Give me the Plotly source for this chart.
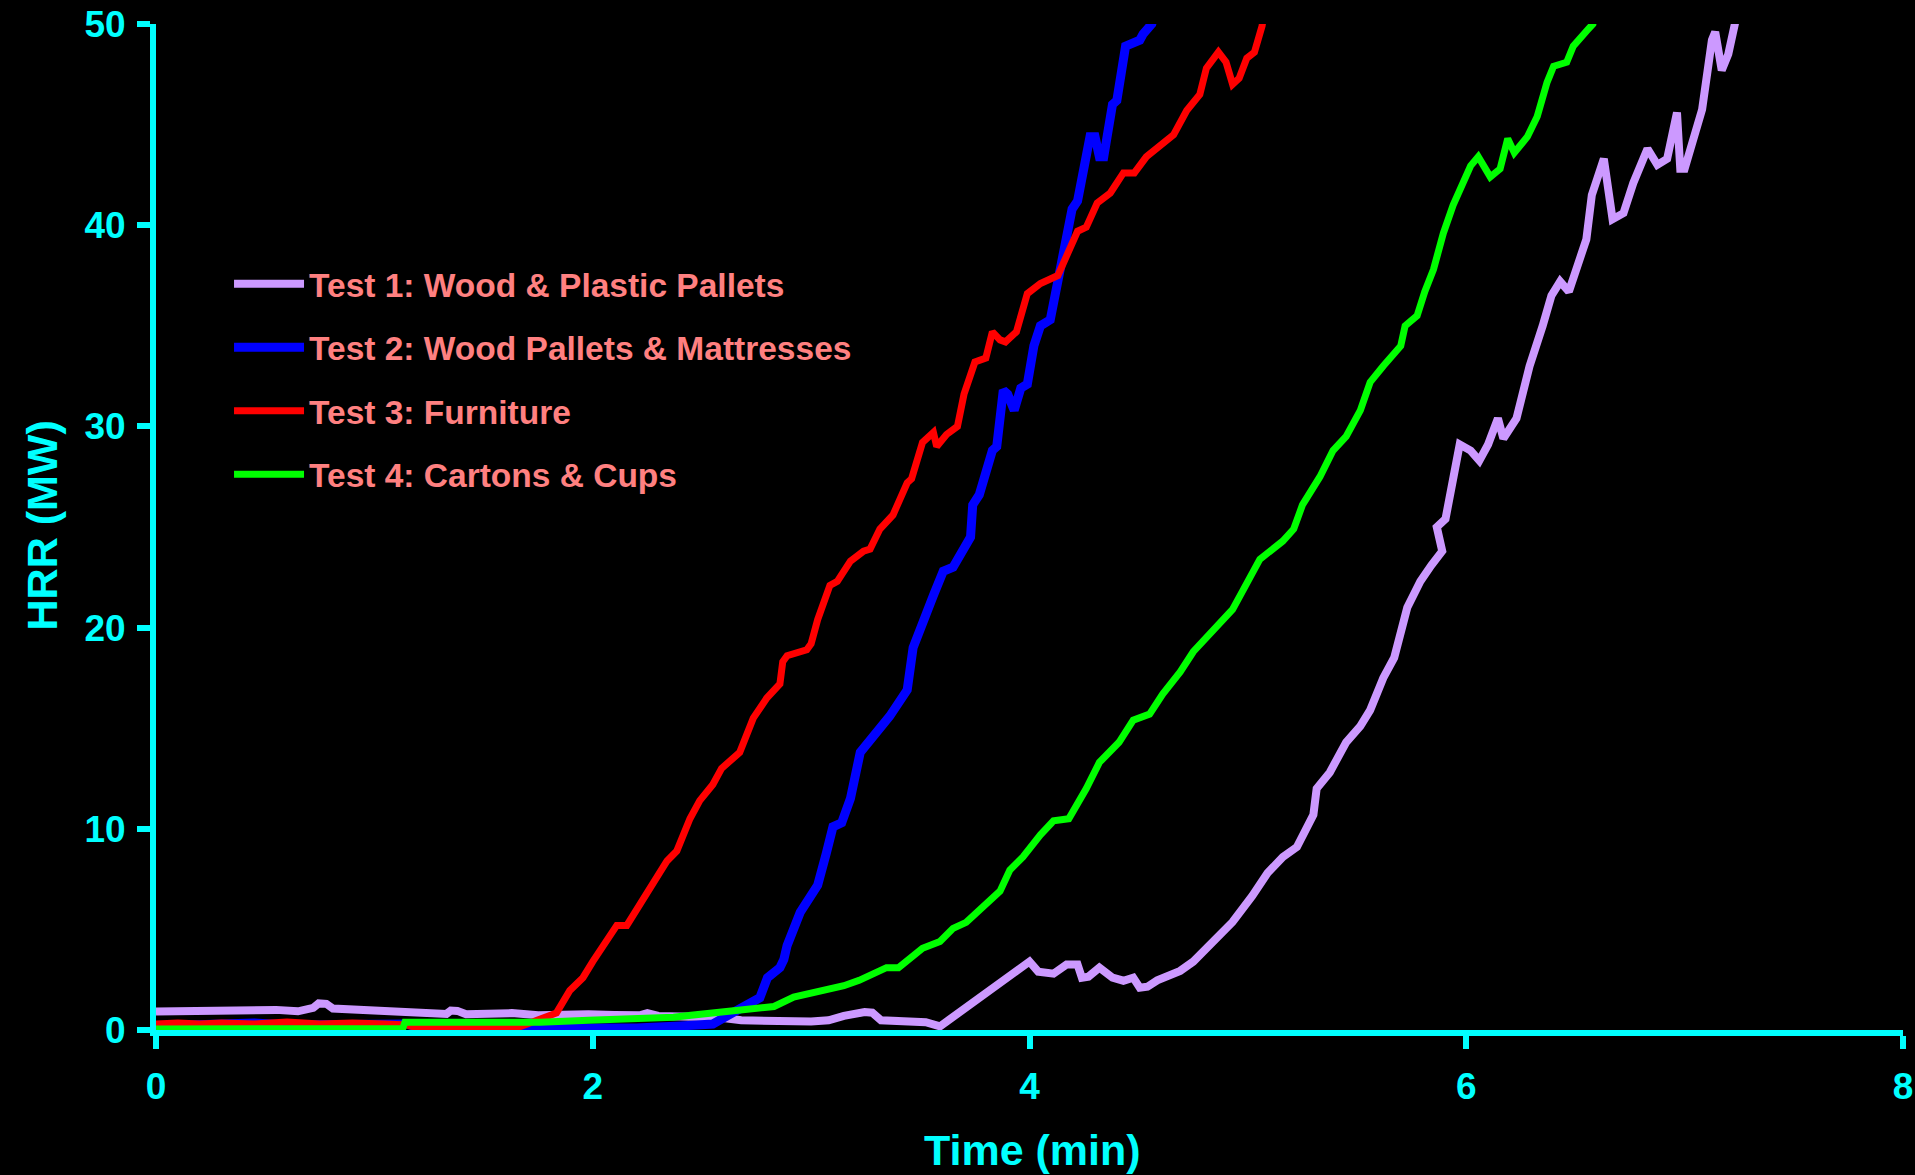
import plotly.graph_objects as go

# ---- data (time in min, HRR in MW) ----
t1_x = [0, 0.1, 0.23, 0.35, 0.46, 0.55, 0.65, 0.72, 0.745, 0.78, 0.81, 0.9, 1.05, 1.15, 1.28, 1.33, 1.35, 1.38,
        1.42, 1.5, 1.63, 1.75, 1.85, 1.98, 2.1, 2.215, 2.25, 2.3, 2.45, 2.57, 2.68, 2.8, 2.92, 3.0, 3.08, 3.15,
        3.245, 3.28, 3.32, 3.4, 3.525, 3.59, 4.0, 4.04, 4.11, 4.17, 4.22, 4.24, 4.27, 4.32, 4.38, 4.43, 4.475,
        4.505, 4.54, 4.585, 4.69, 4.75, 4.84, 4.93, 5.02, 5.09, 5.16, 5.225, 5.30, 5.315, 5.375, 5.45, 5.515,
        5.56, 5.62, 5.67, 5.73, 5.79, 5.84, 5.89, 5.865, 5.905, 5.97, 6.02, 6.06, 6.10, 6.145, 6.17, 6.23,
        6.29, 6.35, 6.39, 6.43, 6.47, 6.55, 6.575, 6.63, 6.67, 6.72, 6.765, 6.83, 6.875, 6.92, 6.965, 6.98,
        7.0, 7.08, 7.125, 7.14, 7.17, 7.2, 7.25]
t1_y = [0.92, 0.95, 0.97, 1.0, 1.07, 1.0, 0.93, 1.1, 1.32, 1.3, 1.07, 1.02, 0.98, 0.9, 0.78, 0.8, 0.97, 0.95,
        0.78, 0.82, 0.84, 0.73, 0.78, 0.78, 0.75, 0.73, 0.84, 0.7, 0.66, 0.63, 0.48, 0.45, 0.39, 0.42, 0.48, 0.7,
        0.89, 0.86, 0.48, 0.45, 0.39, 0.18, 3.4, 2.9, 2.8, 3.26, 3.26, 2.6, 2.65, 3.1, 2.6, 2.45, 2.6,
        2.1, 2.15, 2.47, 2.94, 3.4, 4.4, 5.37, 6.66, 7.8, 8.6, 9.1, 10.7, 12.0, 12.8, 14.3, 15.1,
        15.9, 17.5, 18.5, 21.0, 22.3, 23.1, 23.8, 25.0, 25.4, 29.1, 28.8, 28.3, 29.1, 30.4, 29.4, 30.4,
        33.0, 35.0, 36.5, 37.2, 36.7, 39.3, 41.5, 43.3, 40.3, 40.6, 42.1, 43.8, 43.0, 43.3, 45.6, 42.8,
        42.8, 45.75, 49.2, 49.6, 47.7, 48.5, 51.0]

t2_x = [0, 0.1, 0.3, 0.45, 0.6, 0.8, 1.0, 1.15, 1.2, 1.5, 1.8, 2.0, 2.2, 2.4, 2.55, 2.61, 2.705, 2.765, 2.80,
        2.857, 2.875, 2.89, 2.95, 3.01, 3.03, 3.07, 3.10, 3.14, 3.18, 3.225, 3.285, 3.36, 3.44, 3.467, 3.56,
        3.605, 3.65, 3.71, 3.73, 3.74, 3.77, 3.83, 3.85, 3.88, 3.90, 3.93, 3.96, 3.99, 4.02, 4.05, 4.095,
        4.155, 4.195, 4.22, 4.277, 4.30, 4.32, 4.34, 4.38, 4.40, 4.44, 4.505, 4.52, 4.56, 4.58]
t2_y = [0.2, 0.25, 0.3, 0.35, 0.25, 0.3, 0.25, 0.3, 0.1, 0.08, 0.05, 0.05, 0.1, 0.2, 0.3, 0.67, 1.27, 1.6, 2.6,
        3.1, 3.5, 4.2, 5.85, 6.8, 7.2, 8.8, 10.1, 10.3, 11.5, 13.8, 14.6, 15.6, 16.9, 19.0, 21.6,
        22.8, 23.0, 24.0, 24.5, 26.1, 26.6, 28.8, 29.0, 31.8, 31.6, 30.8, 31.9, 32.1, 34.0, 35.0, 35.3,
        38.6, 40.8, 41.2, 44.4, 44.4, 43.4, 43.4, 46.0, 46.2, 48.9, 49.2, 49.5, 50.0, 51.0]

t3_x = [0, 0.1, 0.2, 0.3, 0.45, 0.6, 0.75, 0.9, 1.05, 1.15, 1.2, 1.5, 1.65, 1.7, 1.758, 1.80, 1.834, 1.895,
        1.955, 2.0, 2.047, 2.11, 2.156, 2.216, 2.276, 2.34, 2.385, 2.445, 2.49, 2.55, 2.59, 2.673, 2.735,
        2.797, 2.857, 2.87, 2.89, 2.98, 3.0, 3.03, 3.086, 3.12, 3.18, 3.24, 3.27, 3.315, 3.375, 3.44, 3.46,
        3.51, 3.56, 3.575, 3.62, 3.67, 3.70, 3.75, 3.80, 3.83, 3.865, 3.89, 3.94, 3.99, 4.05, 4.11, 4.13,
        4.22, 4.26, 4.31, 4.37, 4.43, 4.48, 4.535, 4.60, 4.66, 4.72, 4.78, 4.81, 4.865, 4.90, 4.93, 4.96,
        4.995, 5.03, 5.065, 5.08]
t3_y = [0.3, 0.35, 0.3, 0.35, 0.3, 0.4, 0.3, 0.35, 0.3, 0.25, 0.08, 0.05, 0.1, 0.3, 0.55, 0.7, 0.85, 1.97,
        2.6, 3.4, 4.2, 5.2, 5.2, 6.2, 7.3, 8.4, 8.9, 10.5, 11.4, 12.2, 13.0, 13.8, 15.5,
        16.5, 17.2, 18.3, 18.6, 18.9, 19.2, 20.4, 22.1, 22.3, 23.3, 23.8, 23.9, 24.9, 25.6, 27.2, 27.4,
        29.2, 29.7, 29.0, 29.6, 30.0, 31.6, 33.2, 33.4, 34.7, 34.3, 34.2, 34.7, 36.6, 37.1, 37.4, 37.5,
        39.7, 39.9, 41.1, 41.6, 42.6, 42.6, 43.4, 44.0, 44.5, 45.7, 46.5, 47.8, 48.6, 48.1, 47.0, 47.3,
        48.3, 48.6, 49.9, 51.0]

t4_x = [0, 0.3, 0.6, 0.9, 1.13, 1.14, 1.4, 1.76, 1.98, 2.2, 2.37, 2.45, 2.55, 2.67, 2.83, 2.92, 3.055, 3.15,
        3.22, 3.3, 3.345, 3.40, 3.51, 3.59, 3.65, 3.71, 3.80, 3.865, 3.91, 3.97, 4.05, 4.11, 4.18, 4.26,
        4.32, 4.41, 4.475, 4.55, 4.61, 4.69, 4.75, 4.84, 4.93, 4.98, 5.055, 5.16, 5.21, 5.25, 5.33, 5.39,
        5.45, 5.515, 5.56, 5.62, 5.70, 5.72, 5.775, 5.81, 5.85, 5.895, 5.94, 6.02, 6.055, 6.11, 6.155,
        6.19, 6.22, 6.28, 6.325, 6.37, 6.40, 6.46, 6.49, 6.555, 6.58, 6.60]
t4_y = [0.05, 0.05, 0.06, 0.05, 0.08, 0.39, 0.4, 0.38, 0.48, 0.55, 0.63, 0.73, 0.85, 1.0, 1.17, 1.64, 1.97, 2.2,
        2.47, 2.9, 3.1, 3.1, 4.06, 4.4, 5.05, 5.35, 6.2, 6.9, 7.95, 8.6, 9.7, 10.4, 10.5, 12.0,
        13.3, 14.3, 15.4, 15.7, 16.7, 17.8, 18.8, 19.8, 20.9, 21.9, 23.4, 24.3, 24.9, 26.1, 27.5, 28.8,
        29.5, 30.8, 32.2, 33.0, 34.0, 35.0, 35.5, 36.7, 37.8, 39.6, 41.0, 42.95, 43.4, 42.4, 42.8,
        44.3, 43.6, 44.4, 45.4, 47.1, 47.9, 48.1, 48.9, 49.7, 50.0, 51.0]

names = ["Test 1: Wood & Plastic Pallets", "Test 2: Wood Pallets & Mattresses",
         "Test 3: Furniture", "Test 4: Cartons & Cups"]
colors = ["#CC99FF", "#0000FF", "#FF0000", "#00FF00"]
widths = [8, 9, 7, 7]
xs = [t1_x, t2_x, t3_x, t4_x]
ys = [t1_y, t2_y, t3_y, t4_y]

AX = "#00FFFF"
FONT = "Liberation Sans, Arial, sans-serif"

fig = go.Figure()
for i in range(4):
    fig.add_trace(go.Scatter(x=xs[i], y=ys[i], mode="lines", name=names[i],
                             legendgroup=f"g{i}",
                             line=dict(color=colors[i], width=widths[i])))

axis_common = dict(showline=True, linecolor=AX, linewidth=6, ticks="outside", ticklen=13,
                   tickwidth=6, tickcolor=AX, showgrid=False, zeroline=False, automargin=False,
                   tickfont=dict(family=FONT, size=37, color=AX, weight="bold"))

fig.update_layout(
    width=1915, height=1175,
    paper_bgcolor="black", plot_bgcolor="black",
    margin=dict(l=156, r=12, t=24, b=145),
    xaxis=dict(range=[0, 8], tickvals=[0, 2, 4, 6, 8], ticklabelstandoff=6, **axis_common),
    yaxis=dict(range=[0, 50], tickvals=[0, 10, 20, 30, 40, 50], ticklabelstandoff=4, **axis_common),
    showlegend=True,
    legend=dict(x=0.0418, y=0.77, xanchor="left", yanchor="top", bgcolor="rgba(0,0,0,0)",
                font=dict(family=FONT, size=33.5, color="#FF8080", weight="bold"),
                itemwidth=70, tracegroupgap=17, traceorder="grouped"),
    annotations=[
        dict(text="Time (min)", xref="paper", yref="paper", x=0.502, y=-0.119,
             xanchor="center", yanchor="middle", showarrow=False,
             font=dict(family=FONT, size=43, color=AX, weight="bold")),
        dict(text="HRR (MW)", xref="paper", yref="paper", x=-0.065, y=0.502, textangle=-90,
             xanchor="center", yanchor="middle", showarrow=False,
             font=dict(family=FONT, size=43, color=AX, weight="bold")),
    ],
)

fig.write_html("out.html", config={"displayModeBar": False},
               post_script="document.body.style.margin='0px';document.body.style.background='black';")
